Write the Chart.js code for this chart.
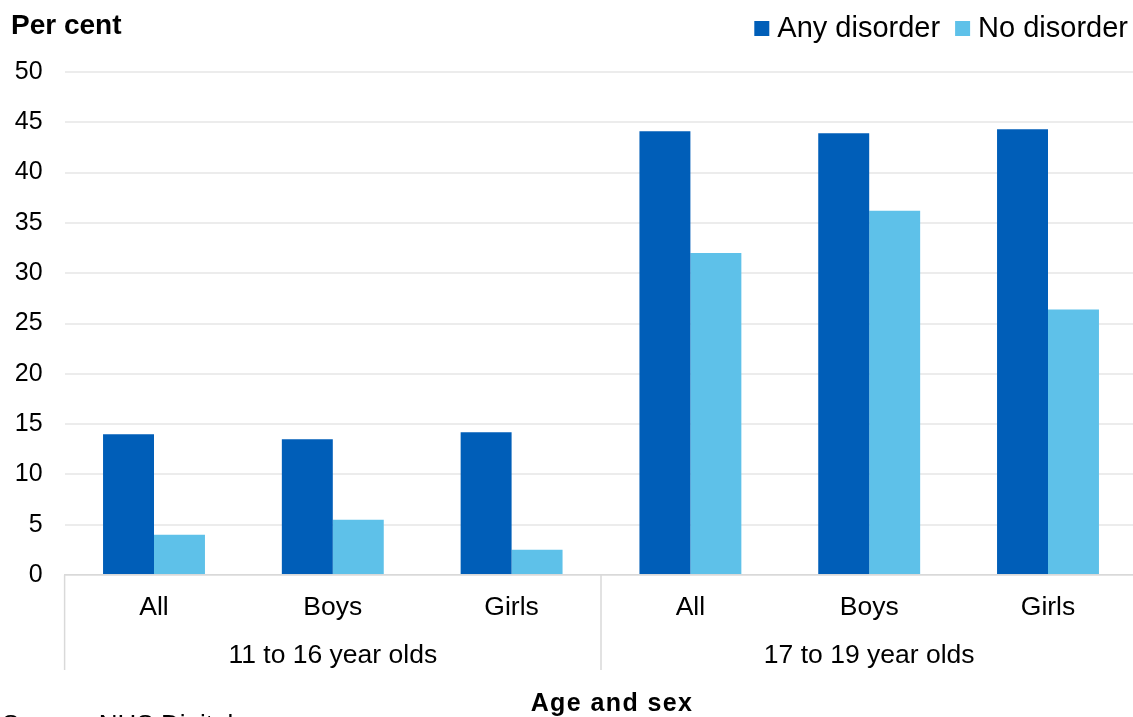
<!DOCTYPE html>
<html>
<head>
<meta charset="utf-8">
<script src="https://cdn.jsdelivr.net/npm/chart.js@4/dist/chart.umd.min.js"></script>
<style>
  html, body { margin: 0; padding: 0; background: #fff; overflow: hidden; }
  #wrap { width: 1133px; height: 717px; overflow: hidden; position: relative; }
  canvas { display: block; }
</style>
</head>
<body>
<div id="wrap"><canvas id="c" width="1140" height="717"></canvas></div>
<script>
// Sub-categories along the x axis, and the age bands they belong to
const categories = ['All', 'Boys', 'Girls', 'All', 'Boys', 'Girls'];
const ageGroups = ['11 to 16 year olds', '17 to 19 year olds'];
const groupSize = 3;

// Percentages by disorder status
const anyDisorder = [14.0, 13.5, 14.2, 44.1, 43.9, 44.3];
const noDisorder = [4.0, 5.5, 2.5, 32.0, 36.2, 26.4];

// Value axis
const yMin = 0, yMax = 50, yStep = 5;

const FONT = '"Liberation Sans", Arial, Helvetica, sans-serif';
const DARK = '#005EB8';
const LIGHT = '#5EC1E9';
const RULE = '#d9d9d9';

const decorations = {
  id: 'decorations',
  afterDraw(chart) {
    const ctx = chart.ctx;
    const x = chart.scales.x;
    const area = chart.chartArea;
    ctx.save();
    ctx.fillStyle = '#000';

    // y-axis caption
    ctx.font = 'bold 28px ' + FONT;
    ctx.textAlign = 'left';
    ctx.textBaseline = 'alphabetic';
    ctx.fillText('Per cent', 11, 34);

    // legend, right aligned
    const items = chart.data.datasets.map(d => ({ label: d.label, color: d.backgroundColor }));
    ctx.font = '29px ' + FONT;
    const box = 15, gap = 8, between = 15;
    let total = 0;
    items.forEach((it, i) => {
      total += box + gap + ctx.measureText(it.label).width + (i < items.length - 1 ? between : 0);
    });
    let lx = 1128 - total;
    items.forEach(it => {
      ctx.fillStyle = it.color;
      ctx.fillRect(lx, 21, box, box);
      lx += box + gap;
      ctx.fillStyle = '#000';
      ctx.fillText(it.label, lx, 37);
      lx += ctx.measureText(it.label).width + between;
    });

    // group separators below the axis
    ctx.strokeStyle = RULE;
    ctx.lineWidth = 1.5;
    const bounds = [area.left];
    for (let g = 1; g < ageGroups.length; g++) {
      const i = g * groupSize;
      bounds.push((x.getPixelForValue(i - 1) + x.getPixelForValue(i)) / 2);
    }
    bounds.push(area.right);
    bounds.forEach(b => {
      ctx.beginPath();
      ctx.moveTo(b, area.bottom);
      ctx.lineTo(b, 670);
      ctx.stroke();
    });

    // age band labels
    ctx.fillStyle = '#000';
    ctx.font = '26.5px ' + FONT;
    ctx.textAlign = 'center';
    ctx.textBaseline = 'middle';
    ageGroups.forEach((name, g) => {
      const first = x.getPixelForValue(g * groupSize);
      const last = x.getPixelForValue(g * groupSize + groupSize - 1);
      ctx.fillText(name, (first + last) / 2, 656);
    });

    // x-axis title
    ctx.font = 'bold 25px ' + FONT;
    ctx.letterSpacing = '1.4px';
    ctx.textBaseline = 'alphabetic';
    ctx.fillText('Age and sex', 612, 711);
    ctx.letterSpacing = '0px';

    // source note at the foot
    ctx.font = '26px ' + FONT;
    ctx.textAlign = 'left';
    ctx.fillText('Source: NHS Digital', 2, 733);

    ctx.restore();
  }
};

new Chart(document.getElementById('c'), {
  type: 'bar',
  data: {
    labels: categories,
    datasets: [
      { label: 'Any disorder', data: anyDisorder, backgroundColor: DARK },
      { label: 'No disorder', data: noDisorder, backgroundColor: LIGHT }
    ]
  },
  options: {
    responsive: false,
    animation: false,
    devicePixelRatio: 1,
    layout: { padding: { top: 72, left: 0, right: 2.6, bottom: 0 } },
    plugins: { legend: { display: false }, tooltip: { enabled: false } },
    datasets: { bar: { categoryPercentage: 0.57, barPercentage: 1.0 } },
    scales: {
      x: {
        grid: { display: false },
        border: { display: true, color: RULE, width: 1.5 },
        ticks: { font: { family: FONT, size: 26.5 }, color: '#000', padding: 9, maxRotation: 0 },
        afterFit(scale) { scale.height = 142; }
      },
      y: {
        min: yMin,
        max: yMax,
        grid: { color: '#ececec', lineWidth: 2, drawTicks: false },
        border: { display: false },
        ticks: { stepSize: yStep, font: { family: FONT, size: 25 }, color: '#000', padding: 22 },
        afterFit(scale) { scale.width = 64.6; }
      }
    }
  },
  plugins: [decorations]
});
</script>
</body>
</html>
